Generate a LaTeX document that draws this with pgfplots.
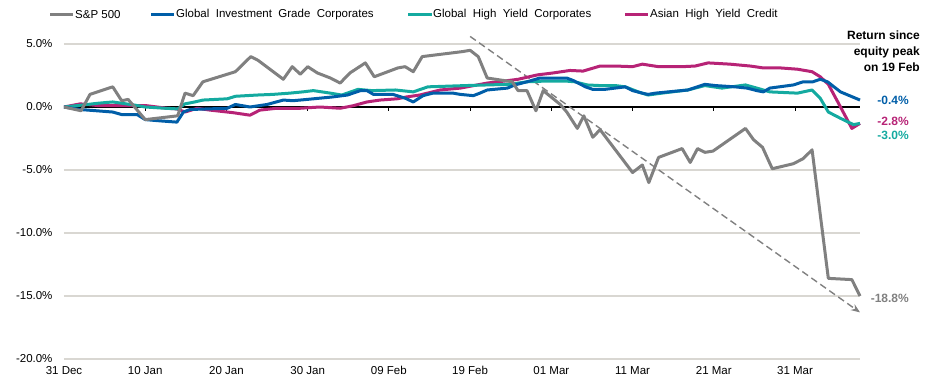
\documentclass[border=0pt]{standalone}
\usepackage{pgfplots}
\pgfplotsset{compat=1.18}
\usepackage{fontspec}
\setmainfont{Liberation Sans}
\usetikzlibrary{arrows.meta}
\definecolor{spgray}{RGB}{128,128,128}
\definecolor{igblue}{RGB}{0,94,168}
\definecolor{hyteal}{RGB}{20,170,160}
\definecolor{ahmag}{RGB}{183,35,118}
\definecolor{gridgray}{RGB}{217,215,210}
\begin{document}
\begin{tikzpicture}
\path[use as bounding box] (0pt,0pt) rectangle (932pt,391pt);
% legend
\begin{scope}[font=\fontsize{11.5}{13}\selectfont]
\draw[spgray, line width=3pt] (50pt,376pt) -- (73pt,376pt);
\node[anchor=west, inner sep=0pt] at (75pt,376pt) {S\&P 500};
\draw[igblue, line width=3pt] (151pt,376pt) -- (174pt,376pt);
\node[anchor=west, inner sep=0pt] at (176pt,376pt) {Global\ \ Investment\ \ Grade\ \ Corporates};
\draw[hyteal, line width=3pt] (408pt,376pt) -- (432pt,376pt);
\node[anchor=west, inner sep=0pt] at (433pt,376pt) {Global\ \ High\ \ Yield\ \ Corporates};
\draw[ahmag, line width=3pt] (625pt,376pt) -- (648pt,376pt);
\node[anchor=west, inner sep=0pt] at (650pt,376pt) {Asian\ \ High\ \ Yield\ \ Credit};
\end{scope}
\begin{axis}[
  at={(64pt,32pt)}, anchor=south west,
  scale only axis, width=796pt, height=315pt,
  xmin=0, xmax=98, ymin=-20, ymax=5,
  clip=false,
  axis line style={draw=none},
  major tick length=0pt,
  xtick={0,10,20,30,40,50,60,70,80,90},
  xticklabels={31 Dec,10 Jan,20 Jan,30 Jan,09 Feb,19 Feb,01 Mar,11 Mar,21 Mar,31 Mar},
  ytick={-20,-15,-10,-5,5},
  yticklabels={-20.0\%,-15.0\%,-10.0\%,-5.0\%,5.0\%},
  extra y ticks={0},
  extra y tick labels={0.0\%},
  extra y tick style={grid style={black, line width=1.2pt}},
  ymajorgrids,
  grid style={gridgray, line width=1.3pt},
  ticklabel style={font=\fontsize{11.5}{13}\selectfont},
  yticklabel style={xshift=-8pt},
  xticklabel style={yshift=-4pt},
  /pgf/number format/assume math mode=true,
]
\foreach \d in {10,20,30,40,50,60,70,80,90} {
  \edef\tmp{\noexpand\draw[black, line width=0.8pt] (axis cs:\d,0) -- ++(0pt,-4pt);}
  \tmp
}
% dashed trend arrow
\addplot[spgray, line width=1.4pt, dash pattern=on 7pt off 4pt, -{Stealth[length=9pt,width=7pt]}] coordinates {(50,5.6) (98,-16.3)};
% Asian High Yield Credit
\addplot[ahmag, line width=3pt, line join=round] coordinates {
(0,0) (2.0,0.25) (4.4,0.1) (7.8,0.1) (10.2,0.1) (12.7,-0.1) (13.9,-0.15) (14.9,-0.4)
(16.4,-0.1) (18.0,-0.25) (20.8,-0.45) (22.9,-0.65) (24.1,-0.25) (26.2,-0.1) (29.1,-0.1)
(31.5,0) (34.0,-0.1) (35.6,0.1) (37.3,0.4) (38.9,0.55) (41.0,0.65) (42.2,0.8) (43.8,0.95)
(46.3,1.35) (48.8,1.5) (52.1,1.9) (54.1,2.05) (55.9,2.2) (58.3,2.55) (60.2,2.7) (62.3,2.9)
(63.9,2.85) (66.0,3.25) (67.9,3.25) (70.0,3.2) (71.2,3.4) (73.2,3.2) (76.1,3.2) (77.7,3.25)
(79.3,3.5) (82.0,3.4) (84.5,3.25) (86.1,3.1) (88.2,3.1) (90.3,3.0) (92.1,2.8) (93.1,2.4)
(94.1,1.8) (95.6,0) (97.0,-1.7) (98.0,-1.3)};
% Global High Yield Corporates
\addplot[hyteal, line width=3pt, line join=round] coordinates {
(0,0) (2.2,0.15) (4.2,0.3) (6.0,0.4) (7.1,0.3) (8.7,0.15) (10.0,0) (12.4,-0.1) (14.0,-0.15)
(14.9,0.25) (16.1,0.4) (17.1,0.55) (20.1,0.65) (21.1,0.85) (23.8,0.95) (25.7,1.0) (27.8,1.1)
(29.4,1.2) (30.7,1.3) (32.8,1.1) (34.2,0.95) (36.2,1.4) (37.9,1.3) (40.8,1.35) (43.0,1.2)
(44.8,1.6) (49.4,1.7) (52.1,1.75) (54.9,1.8) (57.0,2.0) (59.0,2.05) (61.9,2.05) (62.9,2.0)
(64.4,1.75) (66.0,1.7) (67.9,1.7) (69.1,1.6) (70.7,1.2) (71.9,0.95) (73.6,1.1) (76.8,1.35)
(78.9,1.7) (81.0,1.5) (83.9,1.75) (85.3,1.5) (86.9,1.2) (90.3,1.1) (92.1,1.35) (93.1,0.7)
(94.1,-0.4) (95.6,-0.9) (97.2,-1.4) (98.0,-1.3)};
% Global Investment Grade Corporates
\addplot[igblue, line width=3pt, line join=round] coordinates {
(0,0) (2.0,-0.2) (6.0,-0.4) (7.1,-0.6) (9.0,-0.6) (10.0,-1.0) (11.8,-1.1) (13.9,-1.2)
(14.7,-0.4) (15.5,-0.2) (20.1,-0.1) (21.1,0.2) (22.9,0) (25.0,0.2) (27.0,0.55) (28.2,0.5)
(29.9,0.6) (33.1,0.8) (34.9,0.95) (36.5,1.3) (37.3,1.3) (38.1,1.0) (40.5,1.0) (42.0,0.7)
(43.0,0.4) (44.2,0.9) (45.4,1.1) (47.9,1.1) (48.8,1.0) (50.4,0.9) (51.2,1.1) (52.1,1.35)
(54.6,1.5) (55.5,1.75) (57.0,2.0) (58.6,2.3) (61.9,2.3) (62.7,2.1) (64.2,1.6) (65.1,1.4)
(66.6,1.4) (69.1,1.6) (70.0,1.3) (71.2,1.1) (71.9,1.0) (72.8,1.1) (76.8,1.35) (78.9,1.8)
(80.2,1.7) (82.6,1.6) (84.1,1.5) (85.3,1.3) (86.1,1.2) (86.9,1.5) (89.8,1.75) (91.0,2.0)
(92.2,2.0) (93.1,2.2) (94.0,2.0) (95.6,1.2) (98.0,0.55)};
% S&P 500
\addplot[spgray, line width=3pt, line join=round] coordinates {
(0,0) (2.1,-0.3) (3.2,1.0) (6.0,1.6) (7.1,0.5) (7.9,0.6) (10.0,-1.0) (14.0,-0.7) (14.9,1.1)
(15.9,0.9) (17.1,2.0) (21.1,2.8) (23.0,4.0) (23.9,3.7) (27.0,2.2) (28.1,3.2) (29.1,2.6)
(30.0,3.2) (31.2,2.7) (32.8,2.3) (34.0,1.9) (35.2,2.7) (37.1,3.5) (38.2,2.4) (41.1,3.1)
(42.0,3.2) (43.0,2.8) (44.1,4.0) (49.1,4.4) (50.0,4.5) (51.0,4.0) (52.1,2.3) (55.2,2.0)
(55.9,1.3) (57.0,1.3) (58.1,-0.3) (59.0,1.3) (61.1,0.2) (61.9,-0.4) (63.2,-1.7) (64.0,-0.7)
(65.1,-2.4) (66.0,-1.8) (70.0,-5.2) (71.2,-4.6) (72.0,-6.0) (73.2,-4.0) (76.1,-3.3)
(77.1,-4.4) (78.0,-3.3) (78.9,-3.6) (79.9,-3.5) (83.9,-1.7) (84.9,-2.6) (86.0,-3.2)
(87.2,-4.9) (89.8,-4.5) (91.0,-4.1) (92.1,-3.4) (94.1,-13.6) (97.0,-13.7) (98.0,-15.0)};
\end{axis}
% annotations
\node[anchor=east, align=right, inner sep=0pt, font=\fontsize{12}{16}\selectfont\bfseries] at (920pt,340pt) {Return since\\equity peak\\on 19 Feb};
\node[anchor=east, inner sep=0pt, text=igblue, font=\fontsize{12}{14}\selectfont\bfseries] at (909pt,291pt) {-0.4\%};
\node[anchor=east, inner sep=0pt, text=ahmag, font=\fontsize{12}{14}\selectfont\bfseries] at (909pt,270pt) {-2.8\%};
\node[anchor=east, inner sep=0pt, text=hyteal, font=\fontsize{12}{14}\selectfont\bfseries] at (909pt,256pt) {-3.0\%};
\node[anchor=east, inner sep=0pt, text=spgray, font=\fontsize{12}{14}\selectfont\bfseries] at (909pt,93pt) {-18.8\%};
\end{tikzpicture}
\end{document}
